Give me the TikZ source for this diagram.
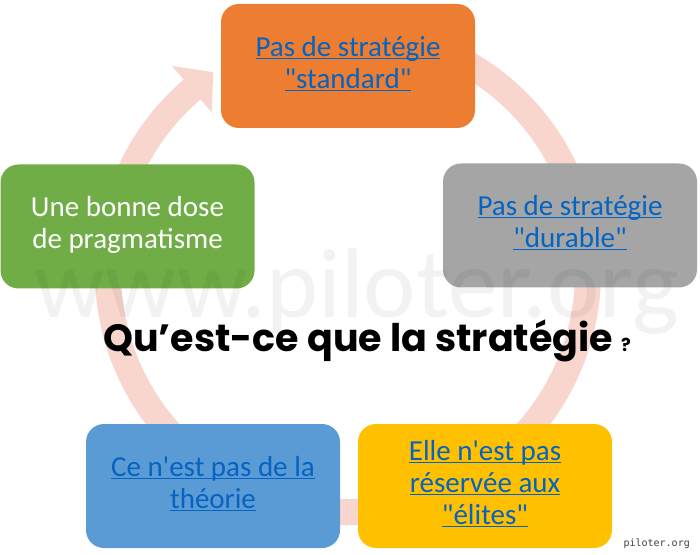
\documentclass[tikz,border=0pt]{standalone}
\usepackage{fontspec}
\newfontfamily\boxfont{Carlito}
\newfontfamily\titlefont{Poppins}
\newfontfamily\smallfont{DejaVu Sans Mono}
\definecolor{ringpink}{RGB}{248,213,205}
\definecolor{boxorange}{RGB}{237,125,49}
\definecolor{boxgray}{RGB}{165,165,165}
\definecolor{boxgreen}{RGB}{112,173,71}
\definecolor{boxblue}{RGB}{91,155,213}
\definecolor{boxyellow}{RGB}{255,192,0}
\definecolor{linkblue}{RGB}{5,99,193}
\newcommand{\lien}[1]{\strut\underline{\smash{#1}}}

\begin{document}
\begin{tikzpicture}[x=1pt,y=1pt,
  box/.style={rounded corners=18pt, minimum width=254pt, minimum height=124pt,
    align=center, inner sep=0pt, text=linkblue,
    font=\boxfont\fontsize{29}{32}\selectfont},
  ring/.style={draw=ringpink, line width=26pt}]
\useasboundingbox (0,0) rectangle (700,554);
\fill[white] (0,0) rectangle (700,554);
\coordinate (centre) at (348,282);

% fleche circulaire
\draw[ring] (centre) ++(70:240) arc[start angle=70, end angle=-229.5, radius=240];
\fill[ringpink] ([shift={(130.5:210)}]centre) -- ([shift={(130.5:271)}]centre)
      -- ([shift={(124:241)}]centre) -- cycle;

% les cinq cases
\node[box, fill=boxorange] (standard) at (348,488) {\lien{Pas de stratégie}\\\lien{"standard"}};
\node[box, fill=boxgray] (durable) at (570,328.5) {\lien{Pas de stratégie}\\\lien{"durable"}};
\node[box, fill=boxgreen, text=white] (pragma) at (127.5,327.5) {\strut Une bonne dose\\\strut de pragmatisme};
\node[box, fill=boxblue] (theorie) at (213,68) {\lien{Ce n'est pas de la}\\\lien{théorie}};
\node[box, fill=boxyellow] (elites) at (485,68) {\lien{Elle n'est pas}\\\lien{réservée aux}\\\lien{"élites"}};

% filigrane et titre
\node[font=\boxfont\fontsize{99}{99}\selectfont, text=black, text opacity=0.05,
      anchor=base, inner sep=0pt] (filigrane) at (357,236) {www.piloter.org};
\node[font=\titlefont\bfseries\fontsize{38}{38}\selectfont, anchor=base west,
      inner sep=0pt] (question) at (103,202)
      {Qu’est-ce que la stratégie {\fontsize{18}{18}\selectfont ?}};
\node[font=\smallfont\fontsize{10}{10}\selectfont, text=black!75, anchor=base east,
      inner sep=0pt] (site) at (690,8) {piloter.org};
\end{tikzpicture}
\end{document}
